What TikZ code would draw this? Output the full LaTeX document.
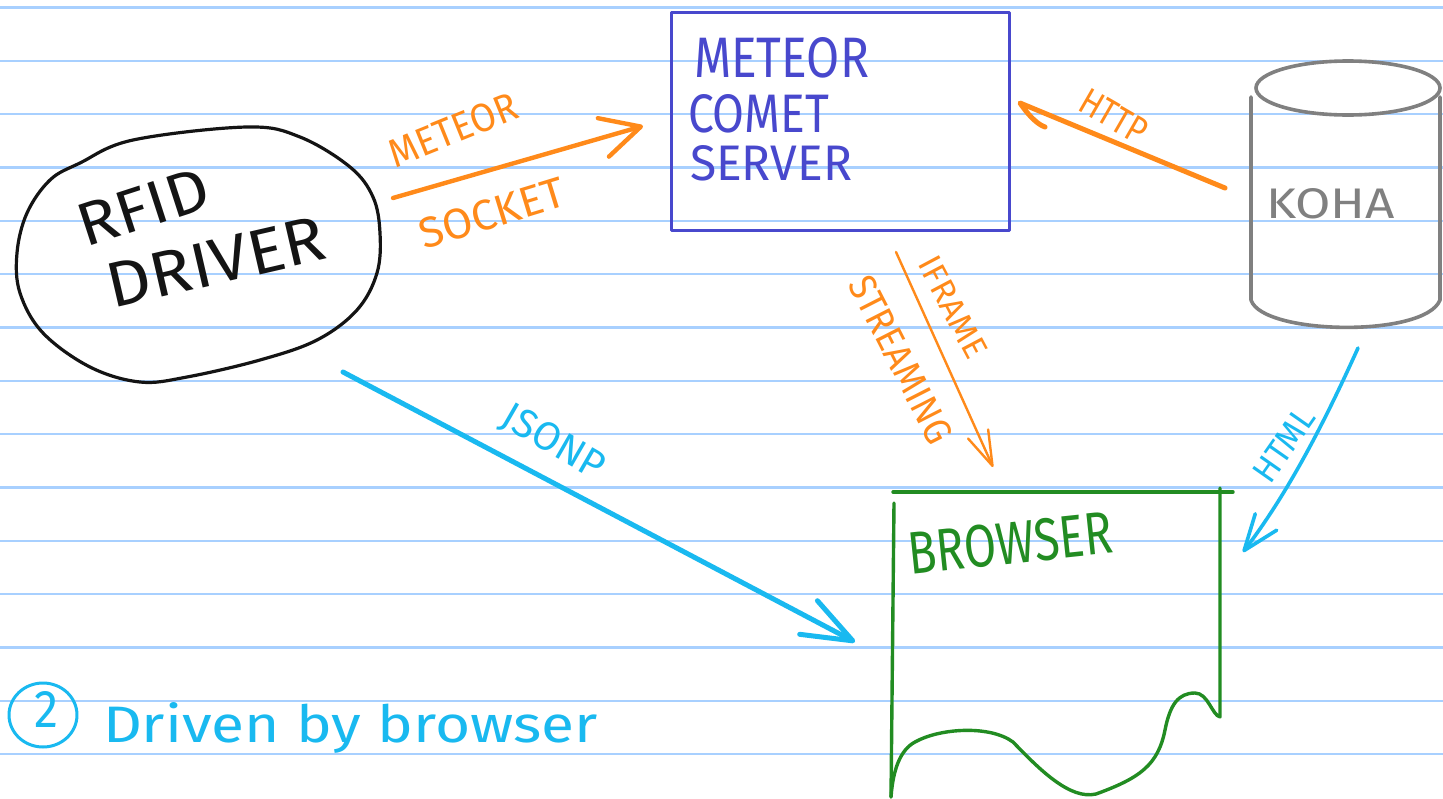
\documentclass[tikz,border=0pt]{standalone}
\usepackage{fontspec}
\setmainfont{Fira Sans}
\usetikzlibrary{arrows.meta,shapes.geometric}
\definecolor{rulecol}{RGB}{168,208,255}
\definecolor{inkcol}{RGB}{20,20,20}
\definecolor{orng}{RGB}{255,138,26}
\definecolor{mblue}{RGB}{72,72,205}
\definecolor{cyanink}{RGB}{25,185,240}
\definecolor{grn}{RGB}{34,140,34}
\definecolor{gry}{RGB}{128,128,128}
\newcommand{\fitt}[3]{\resizebox{#1pt}{#2pt}{#3}}
\begin{document}
\begin{tikzpicture}[x=1pt,y=-1pt,line cap=round,line join=round,
  rulestyle/.style={draw=rulecol,line width=2.4pt,line cap=butt},
  lbl/.style={inner sep=0pt,outer sep=0pt},
  barb/.style 2 args={-{Straight Barb[length=#1pt,width=#2pt,round]}},
  orngline/.style={draw=orng,line width=4.4pt},
  cyanline/.style={draw=cyanink,line width=4.4pt}]
\useasboundingbox (0,0) rectangle (1443,798);
\fill[white] (0,0) rectangle (1443,798);
\foreach \k in {0,...,14}{
  \draw[rulestyle] (0,7.5+53.33*\k) -- (1443,7.5+53.33*\k);
}
% ---------- RFID driver blob
\draw[inkcol,line width=3.2pt] plot[smooth cycle,tension=0.6] coordinates {
 (80,163) (133,140) (247,127) (300,137) (350,167) (373,197) (380,233)
 (377,273) (357,310) (317,340) (260,360) (187,377) (140,382) (90,367)
 (43,333) (20,293) (17,253) (27,213) (50,180)};
\coordinate (rfid) at (198,255);
\node[lbl,text=inkcol,rotate=18] (rfidA) at (143,207) {\fitt{135}{42}{RFID}};
\node[lbl,text=inkcol,rotate=13] (rfidB) at (216,262) {\fitt{222}{44}{DRIVER}};
% ---------- Meteor comet server
\node[draw=mblue,line width=3pt,minimum width=338pt,minimum height=218pt,inner sep=0pt] (meteor) at (840,121) {};
\node[lbl,text=mblue,anchor=base west] (mA) at (694,77) {\fitt{175}{40}{METEOR}};
\node[lbl,text=mblue,anchor=base west] (mB) at (688,132) {\fitt{141}{38}{COMET}};
\node[lbl,text=mblue,anchor=base west] (mC) at (690,180) {\fitt{162}{35}{SERVER}};
% ---------- KOHA cylinder
\draw[gry,line width=3.6pt] (1348,88) ellipse [x radius=92pt,y radius=27pt];
\draw[gry,line width=3.6pt] (1251,97) -- (1251,300)
   .. controls (1262,335) and (1425,338) .. (1440,300) -- (1440,97);
\node[lbl,text=gry,anchor=base west] (koha) at (1266,218) {\fitt{129}{30}{KOHA}};
% ---------- Browser
\draw[grn,line width=3.4pt] (893,492) -- (1233,492);
\draw[grn,line width=3.4pt] (1220,488) -- (1220,717)
  .. controls (1212,715) and (1208,693) .. (1195,693)
  .. controls (1178,693) and (1170,705) .. (1165,730)
  .. controls (1158,765) and (1140,778) .. (1096,794)
  .. controls (1070,800) and (1040,770) .. (1013,742)
  .. controls (990,725) and (940,728) .. (915,742)
  .. controls (900,750) and (893,770) .. (891,797);
\draw[grn,line width=3.4pt] (894,503) -- (891,797);
\node[lbl,text=grn,rotate=6] (browser) at (1010,543) {\fitt{205}{42}{BROWSER}};
% ---------- connectors
\coordinate (sockS) at (393,198);
\coordinate (sockE) at (643,126);
\draw[orngline,barb={39}{40}] (sockS) -- (sockE);
\node[lbl,text=orng,rotate=22] (sockA) at (453,130) {\fitt{135}{28}{METEOR}};
\node[lbl,text=orng,rotate=17] (sockB) at (492,213) {\fitt{150}{30}{SOCKET}};

\coordinate (httpS) at (1225,188);
\coordinate (httpE) at (1020,103);
\coordinate (httpH) at (1045,127);
\draw[orngline,line width=5pt] (httpS) -- (httpE) .. controls (1026,112) and (1036,124) .. (httpH);
\node[lbl,text=orng,rotate=-30] (httpL) at (1114,116) {\fitt{72}{26}{HTTP}};

\coordinate (ifrS) at (896,252);
\coordinate (ifrE) at (993,467);
\draw[draw=orng,line width=2.4pt,barb={35}{22}] (ifrS) -- (ifrE);
\node[lbl,text=orng,rotate=-62] (ifrA) at (953,307) {\fitt{110}{23}{IFRAME}};
\node[lbl,text=orng,rotate=-63] (ifrB) at (901,360) {\fitt{182}{27}{STREAMING}};

\coordinate (htmlS) at (1358,348);
\coordinate (htmlE) at (1243,552);
\draw[cyanline,line width=3.6pt,barb={36}{27}] (htmlS) .. controls (1330,410) and (1292,488) .. (htmlE);
\node[lbl,text=cyanink,rotate=55] (htmlL) at (1284,445) {\fitt{82}{24}{HTML}};

\coordinate (jsS) at (343,372);
\coordinate (jsE) at (855,642);
\draw[cyanline,line width=5pt,barb={50}{38}] (jsS) -- (jsE);
\node[lbl,text=cyanink,rotate=-30] (jsL) at (553,443) {\fitt{112}{28}{JSONP}};
% ---------- caption
\node[draw=cyanink,line width=3pt,ellipse,minimum width=68pt,minimum height=64pt,inner sep=0pt] (num) at (43,715) {};
\node[lbl,text=cyanink] (numtxt) at (47,709) {\fitt{24}{36}{2}};
\node[lbl,text=cyanink,anchor=base west] (caption) at (103,742) {\fitt{495}{40}{Driven by browser}};
\end{tikzpicture}
\end{document}
